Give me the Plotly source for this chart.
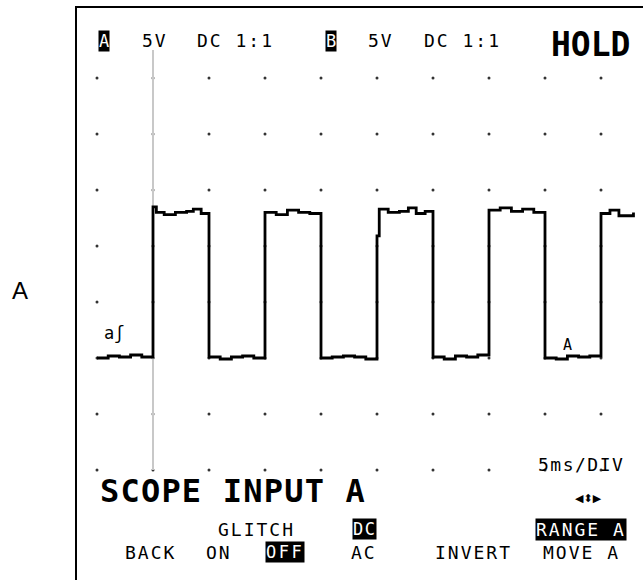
import plotly.graph_objects as go

# ---- data (time in ms, 5 ms/div; voltage in V, 5 V/div) ----
grid_t = [0, 5, 10, 15, 20, 25, 30, 35, 40, 45]
grid_v = [25, 20, 15, 10, 5, 0, -5, -10]

trace_t = [0, 1, 2, 3, 4,
           5, 5.3, 6, 7, 8, 8.6, 9.3,
           10, 11, 12, 13, 14,
           15, 16, 17, 18, 19,
           20, 21, 22, 23, 24,
           25, 25.2, 26, 27, 27.8, 28.5, 29.3,
           30, 31, 32, 33, 34,
           35, 36, 37, 38, 39,
           40, 41, 42, 43, 44,
           45, 45.8, 46.6, 47.9]
trace_v = [0.0, 0.18, 0.09, 0.27, 0.09,
           13.5, 13.0, 12.8, 13.0, 13.1, 13.3, 12.9,
           0.09, -0.09, 0.09, 0.18, 0.0,
           13.0, 12.8, 13.2, 13.0, 12.9,
           0.0, 0.09, 0.18, 0.09, -0.09,
           10.9, 13.3, 13.0, 13.1, 13.4, 12.9, 13.1,
           0.09, -0.09, 0.18, 0.09, 0.27,
           13.2, 13.4, 13.1, 13.3, 13.0,
           0.0, -0.09, 0.18, 0.09, 0.18,
           12.9, 13.2, 12.7, 13.0]

cursor_t = [5, 5]
cursor_v = [27.5, -10]

W, H = 643, 580
X0, Y0, PX = 97, 358, 56  # pixel anchors for axis range
xr = [(0 - X0) * 5 / PX, (W - X0) * 5 / PX]
yr = [(Y0 - H) * 5 / PX, (Y0 - 0) * 5 / PX]

fig = go.Figure()

gx = [t for v in grid_v for t in grid_t]
gy = [v for v in grid_v for t in grid_t]
fig.add_trace(go.Scatter(x=gx, y=gy, mode="markers",
                         marker=dict(size=3, color="#333333"),
                         hoverinfo="skip", showlegend=False))
fig.add_trace(go.Scatter(x=cursor_t, y=cursor_v, mode="lines",
                         line=dict(color="#c8c8c8", width=2),
                         hoverinfo="skip", showlegend=False))
fig.add_trace(go.Scatter(x=trace_t, y=trace_v, mode="lines",
                         line=dict(color="black", width=2.8, shape="hv"),
                         showlegend=False))

MONO = "DejaVu Sans Mono"


def px(x):
    return x / W


def py(y):
    return 1 - y / H


anns = []


def txt(x, y, s, size=18, inv=False, bold=False, family=MONO,
        xanchor="center", ls=2.0):
    if ls:
        s = f'<span style="letter-spacing:{ls}px">{s}</span>'
    if bold:
        s = "<b>" + s + "</b>"
    anns.append(dict(x=px(x), y=py(y), xref="paper", yref="paper", text=s,
                     showarrow=False, xanchor=xanchor, yanchor="middle",
                     font=dict(family=family, size=size,
                               color="white" if inv else "black"),
                     bgcolor="black" if inv else None, borderpad=0))


# header
txt(104, 41, "A", 17, inv=True, ls=0)
txt(155, 41, "5V")
txt(235, 41, "DC 1:1")
txt(331, 41, "B", 17, inv=True, ls=0)
txt(381, 41, "5V")
txt(462, 41, "DC 1:1")
txt(590, 45, "HOLD", 33, bold=True, ls=0)

# trace labels
txt(114, 333, "aʃ", 17, ls=0)
txt(567, 345, "A", 15, ls=0)

# footer
txt(581, 464, "5ms/DIV", ls=1.5)
txt(99, 491, "SCOPE INPUT A", 32, bold=True, xanchor="left", ls=1.2)
txt(588, 498, "◀⬍▶", 11, family="DejaVu Sans", ls=0)
txt(256, 529, "GLITCH")
txt(365, 529, "DC", 17, inv=True, ls=1.5)
txt(581, 529, "RANGE A", inv=True)
txt(150, 552, "BACK")
txt(219, 552, "ON")
txt(285, 552, "OFF", 17, inv=True, ls=2.5)
txt(364, 552, "AC")
txt(473, 552, "INVERT")
txt(581, 552, "MOVE A")

# outside label
txt(20, 290, "A", 24, family="Liberation Sans", ls=0)

fig.update_layout(
    width=W, height=H,
    margin=dict(l=0, r=0, t=0, b=0),
    paper_bgcolor="white", plot_bgcolor="white",
    xaxis=dict(range=xr, visible=False, fixedrange=True),
    yaxis=dict(range=yr, visible=False, fixedrange=True),
    annotations=anns,
    shapes=[dict(type="path", xref="paper", yref="paper",
                 path=f"M {px(76)} {py(600)} L {px(76)} {py(7)} L {px(700)} {py(7)}",
                 line=dict(color="black", width=2))],
    showlegend=False,
)

fig.write_html("out.html", config={"displayModeBar": False},
               post_script="document.body.style.margin='0px';")
